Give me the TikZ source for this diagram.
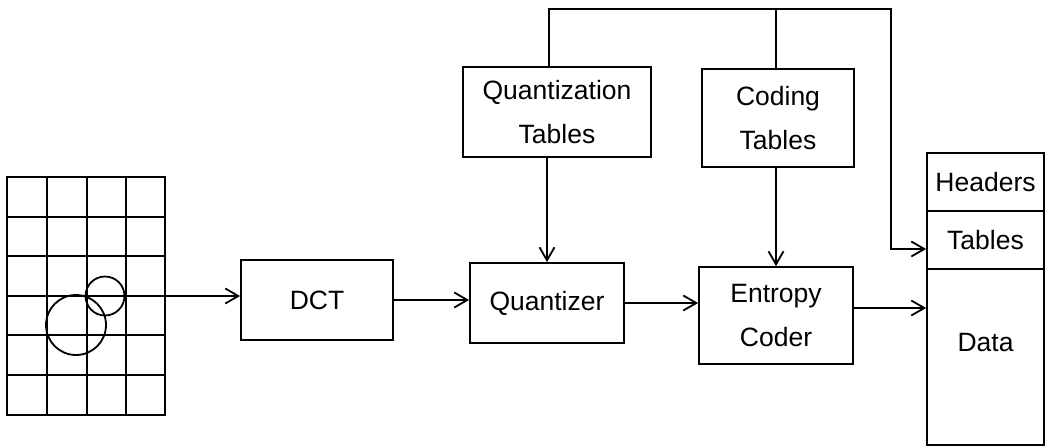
\documentclass[tikz,border=0pt]{standalone}
\usepackage{fontspec}
\setmainfont{Liberation Sans}
\usetikzlibrary{arrows.meta,calc}
\begin{document}
\begin{tikzpicture}[x=1pt,y=-1pt,line width=1.8pt,
  box/.style={draw,rectangle,inner sep=0pt,align=center,font=\fontsize{26.5}{44}\selectfont},
  lbl/.style={inner sep=0pt,font=\fontsize{26.5}{44}\selectfont},
  arr/.style={-{Straight Barb[length=13pt,width=15pt,line width=1.8pt]}}]
\useasboundingbox (0,0) rectangle (1046,447);
% image grid
\draw (7,177) rectangle (165,415);
\foreach \gx in {47,87,126} \draw (\gx,177) -- (\gx,415);
\foreach \gy in {217,256,296,335,375} \draw (7,\gy) -- (165,\gy);
\draw (105,296) circle[radius=19.5pt];
\draw (76,325) circle[radius=30pt];
% blocks
\node[box,minimum width=152pt,minimum height=80pt] (dct) at (317,300) {DCT};
\node[box,minimum width=154pt,minimum height=80pt] (q) at (547,303) {Quantizer};
\node[box,minimum width=154pt,minimum height=97pt] (ent) at (776,315.5) {Entropy\\Coder};
\node[box,minimum width=188pt,minimum height=90pt] (qt) at (557,112) {Quantization\\Tables};
\node[box,minimum width=152pt,minimum height=98pt] (ct) at (778,118) {Coding\\Tables};
\node[box,minimum width=117pt,minimum height=58pt] (hdr) at (985.5,182) {Headers};
\node[box,minimum width=117pt,minimum height=58pt] (tbl) at (985.5,240) {Tables};
\node[draw,rectangle,minimum width=117pt,minimum height=176pt] (dat) at (985.5,357) {};
\node[lbl] (datl) at ($(dat.center)+(0,-14)$) {Data};
% connectors
\coordinate (g0) at (87,296);
\draw[arr] (g0) -- (g0 -| dct.west);
\draw[arr] (dct.east) -- (dct.east -| q.west);
\draw[arr] (q.east) -- (q.east -| ent.west);
\coordinate (eo) at (852,308);
\draw[arr] (ent.east |- eo) -- (eo -| dat.west);
\draw[arr] (q.north |- qt.south) -- (q.north);
\draw[arr] (ent.north |- ct.south) -- (ent.north);
\coordinate (ta) at (549,9);
\coordinate (tb) at (891,9);
\coordinate (tin) at (891,249);
\draw (ent.north |- ta) -- (ent.north |- ct.north);
\draw[arr] (ta |- qt.north) -- (ta) -- (tb) -- (tin) -- (tin -| tbl.west);
\end{tikzpicture}
\end{document}
